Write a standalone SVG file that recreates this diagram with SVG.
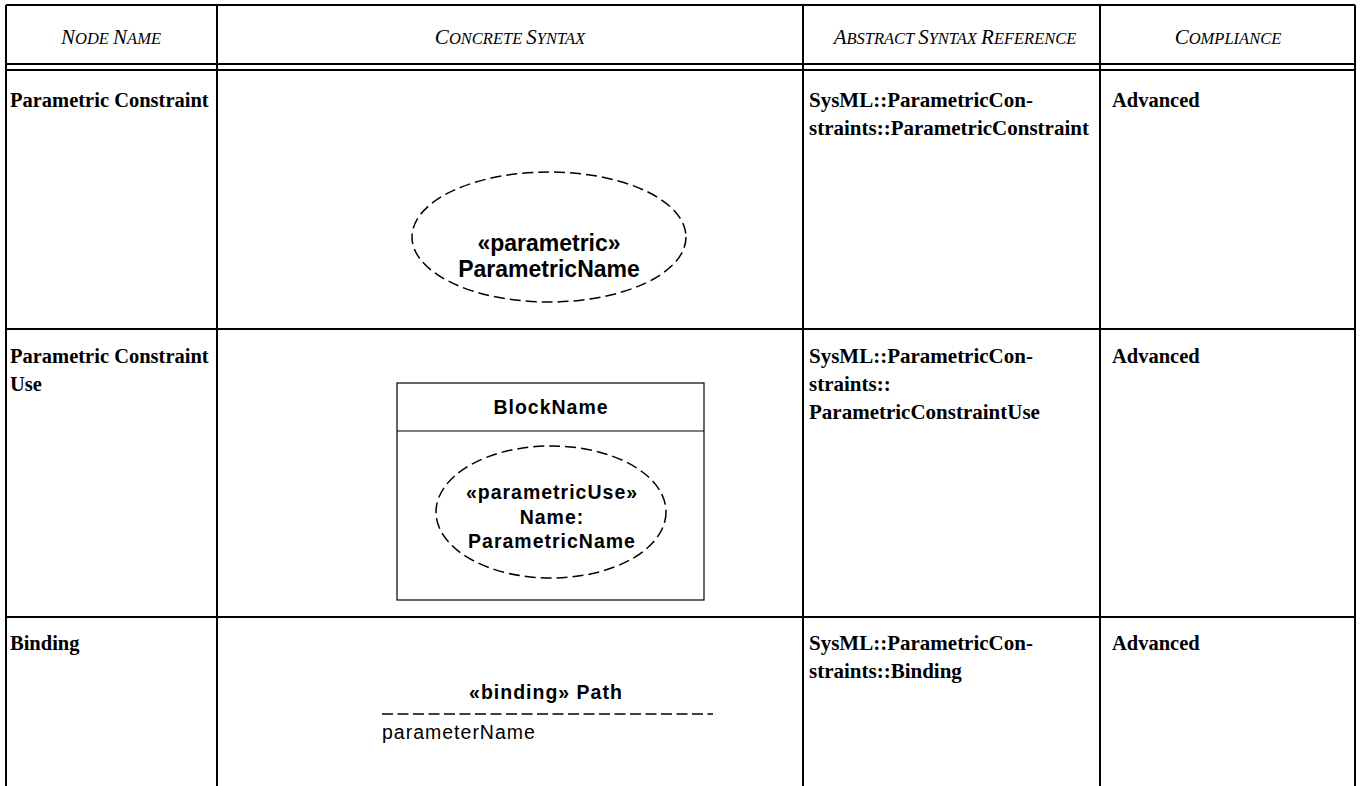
<svg xmlns="http://www.w3.org/2000/svg" width="1361" height="786" viewBox="0 0 1361 786">
<style>
.grid{stroke:#000;stroke-width:2;fill:none}
.hdr{font-family:"Liberation Serif",serif;font-style:italic;font-size:16.5px;text-anchor:middle;fill:#000}
.cap{font-size:21px}
.cell{font-family:"Liberation Serif",serif;font-weight:bold;font-size:20.5px;fill:#000}
.ref{font-size:21px}
.sym{font-family:"Liberation Sans",Arial,sans-serif;font-weight:bold;fill:#000;text-anchor:middle}
.sm{font-size:19.5px;letter-spacing:1px}
.dash{stroke:#000;stroke-width:1.5;fill:none;stroke-dasharray:11,5}
.box{stroke:#000;stroke-width:1.2;fill:#fff}
</style>
<rect width="1361" height="786" fill="#fff"/>
<g id="table">
<path class="grid" d="M6,5 H1355 M6,5 V786 M217,5 V786 M803,5 V786 M1100,5 V786 M1355,5 V786 M6,64 H1355 M6,70 H1355 M6,329 H1355 M6,617 H1355"/>
</g>
<g id="header">
<text class="hdr" x="111" y="44"><tspan class="cap">N</tspan>ODE <tspan class="cap">N</tspan>AME</text>
<text class="hdr" x="510" y="44"><tspan class="cap">C</tspan>ONCRETE <tspan class="cap">S</tspan>YNTAX</text>
<text class="hdr" x="955" y="44"><tspan class="cap">A</tspan>BSTRACT <tspan class="cap">S</tspan>YNTAX <tspan class="cap">R</tspan>EFERENCE</text>
<text class="hdr" x="1228" y="44"><tspan class="cap">C</tspan>OMPLIANCE</text>
</g>
<g id="row-parametric-constraint">
<text class="cell" x="10" y="107">Parametric Constraint</text>
<g id="node-parametric">
<ellipse class="dash" cx="549" cy="237" rx="137" ry="65"/>
<text class="sym" x="549" y="251" font-size="23">«parametric»</text>
<text class="sym" x="549" y="277" font-size="23">ParametricName</text>
</g>
<text class="cell ref" x="809" y="107">SysML::ParametricCon-</text>
<text class="cell ref" x="809" y="135">straints::ParametricConstraint</text>
<text class="cell" x="1112" y="107">Advanced</text>
</g>
<g id="row-parametric-constraint-use">
<text class="cell" x="10" y="363">Parametric Constraint</text>
<text class="cell" x="10" y="391">Use</text>
<g id="node-block">
<rect class="box" x="397" y="383" width="307" height="217"/>
<line class="box" x1="397" y1="431" x2="704" y2="431"/>
<text class="sym sm" x="551" y="414">BlockName</text>
</g>
<g id="node-parametric-use">
<ellipse class="dash" cx="551" cy="512" rx="115" ry="66"/>
<text class="sym sm" x="552" y="499">«parametricUse»</text>
<text class="sym sm" x="552" y="524">Name:</text>
<text class="sym sm" x="552" y="548">ParametricName</text>
</g>
<text class="cell ref" x="809" y="363">SysML::ParametricCon-</text>
<text class="cell ref" x="809" y="391">straints::</text>
<text class="cell ref" x="809" y="419">ParametricConstraintUse</text>
<text class="cell" x="1112" y="363">Advanced</text>
</g>
<g id="row-binding">
<text class="cell" x="10" y="650">Binding</text>
<g id="connectors">
<line x1="382" y1="714" x2="713" y2="714" stroke="#000" stroke-width="1.3" stroke-dasharray="11,4.5"/>
</g>
<text class="sym sm" x="546" y="699">«binding» Path</text>
<text x="382" y="739" font-family="Liberation Sans, Arial, sans-serif" font-size="19.5" letter-spacing="1" fill="#000">parameterName</text>
<text class="cell ref" x="809" y="650">SysML::ParametricCon-</text>
<text class="cell ref" x="809" y="678">straints::Binding</text>
<text class="cell" x="1112" y="650">Advanced</text>
</g>
</svg>
